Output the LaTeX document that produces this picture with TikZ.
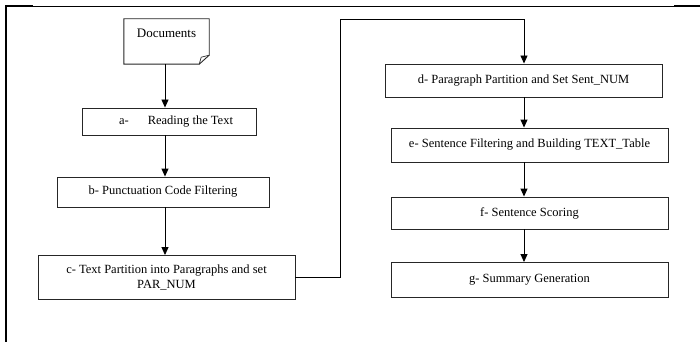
\documentclass[tikz,border=0pt]{standalone}
\usepackage{fontspec}
\setmainfont{Liberation Serif}
\usetikzlibrary{arrows.meta,calc}
\begin{document}
\begin{tikzpicture}[x=1pt,y=-1pt,
  every node/.style={font=\fontsize{12.5}{15}\selectfont, inner sep=0pt},
  stepbox/.style={draw=black!85, line width=0.9pt, fill=white},
  arr/.style={line width=0.9pt, -{Triangle[length=8pt,width=7pt]}},
  conn/.style={line width=0.9pt}]
\useasboundingbox (0,0) rectangle (700,342);
\fill[white] (0,0) rectangle (700,342);
% frame
\draw[line width=0.9pt] (6,6) -- (700,6);
\draw[line width=2.4pt] (6,7) -- (6,342);
\draw[line width=2pt] (5,6) -- (33,6);
\draw[line width=2pt] (674,6) -- (700,6);
% document shape
\node (docs) [minimum width=85pt, minimum height=45pt] at (166.5,41.5) {};
\draw[stepbox] (docs.north west) -- (docs.north east) -- ($(docs.south east)+(0,-9)$) -- ($(docs.south east)+(-10,0)$) -- (docs.south west) -- cycle;
\draw[line width=0.7pt, draw=black!85] ($(docs.south east)+(-10,0)$) -- ($(docs.south east)+(-8,-7)$) -- ($(docs.south east)+(0,-9)$);
\node (docst) at (166.5,33) {\fontsize{13}{15}\selectfont Documents};
% left column
\node (a) [stepbox, minimum width=174pt, minimum height=27pt] at (169,121.5) {};
\node (at) at (176,121.5) {a-\hspace{19pt}Reading the Text};
\node (b) [stepbox, minimum width=212pt, minimum height=30pt] at (163,192) {b- Punctuation Code Filtering};
\node (c) [stepbox, minimum width=257pt, minimum height=44pt, align=center] at (166.5,277.5) {c- Text Partition into Paragraphs and set\\PAR\_NUM};
% right column
\node (d) [stepbox, minimum width=277pt, minimum height=33pt] at (523.5,80.5) {d- Paragraph Partition and Set Sent\_NUM};
\node (e) [stepbox, minimum width=277pt, minimum height=34pt] at (529.5,145) {e- Sentence Filtering and Building TEXT\_Table};
\node (f) [stepbox, minimum width=277pt, minimum height=32pt] at (529.5,213) {f- Sentence Scoring};
\node (g) [stepbox, minimum width=277pt, minimum height=35pt] at (529.5,280) {g- Summary Generation};
% connectors
\coordinate (colL) at (165,0);
\coordinate (colR) at (524,0);
\coordinate (k1) at (340,19);
\draw[arr] (docs.south -| colL) -- (a.north -| colL);
\draw[arr] (a.south -| colL) -- (b.north -| colL);
\draw[arr] (b.south -| colL) -- (c.north -| colL);
\draw[arr] (c.east) -| (k1) -| (d.north -| colR);
\draw[arr] (d.south -| colR) -- (e.north -| colR);
\draw[arr] (e.south -| colR) -- (f.north -| colR);
\draw[arr] (f.south -| colR) -- (g.north -| colR);
\end{tikzpicture}
\end{document}
